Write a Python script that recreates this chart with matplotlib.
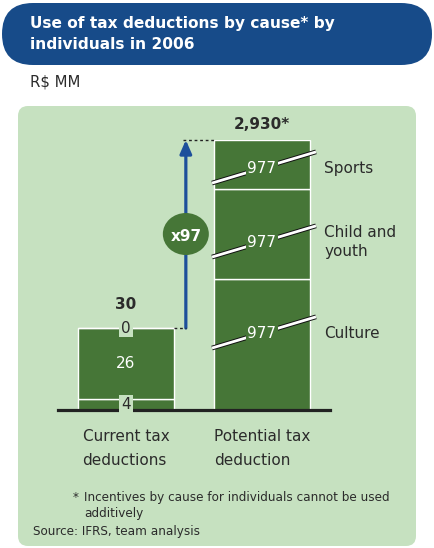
import numpy as np
import matplotlib.pyplot as plt
from matplotlib.patches import FancyBboxPatch, Ellipse
from matplotlib.lines import Line2D
from matplotlib.transforms import IdentityTransform

# data (R$ MM)
categories = ['Current tax\ndeductions', 'Potential tax\ndeduction']
current_parts = [4, 26, 0]            # bottom -> top
current_total = 30
potential_causes = ['Culture', 'Child and\nyouth', 'Sports']   # bottom -> top
potential_parts = [977, 977, 977]
potential_total = 2930
potential_total_label = '2,930*'

BAR = '#467637'
PANEL = '#C6E1C0'
BANNER = '#174B89'
ARROW = '#1D4F9B'
TXT = '#2B2B2B'

W, H = 434, 548
fig = plt.figure(figsize=(W / 100, H / 100), dpi=100)

# background: banner + green panel, in pixel coords
bg = fig.add_axes([0, 0, 1, 1], zorder=-1)
bg.set_xlim(0, W)
bg.set_ylim(H, 0)
bg.axis('off')
bg.add_patch(FancyBboxPatch((2, 3), 430, 62, boxstyle='round,pad=0,rounding_size=31',
                            fc=BANNER, ec='none'))
bg.add_patch(FancyBboxPatch((18, 106), 398, 440, boxstyle='round,pad=0,rounding_size=10',
                            fc=PANEL, ec='none'))
bg.text(30, 34, 'Use of tax deductions by cause* by\nindividuals in 2006', color='white',
        fontsize=11.1, fontweight='bold', va='center', linespacing=1.55)
bg.text(30, 82, 'R$ MM', fontsize=10.7, color=TXT, va='center')
bg.text(73, 497, '*', fontsize=8.65, color=TXT, va='center')
bg.text(84, 497, 'Incentives by cause for individuals cannot be used', fontsize=8.65,
        color=TXT, va='center')
bg.text(84, 514, 'additively', fontsize=8.65, color=TXT, va='center')
bg.text(33, 531, 'Source: IFRS, team analysis', fontsize=8.65, color=TXT, va='center')

rect = [58 / W, 138 / H, 272 / W, 270 / H]
width = 0.71
x = np.arange(len(categories))

# current deductions: plain linear axis
ax1 = fig.add_axes(rect, zorder=2)
ax1.patch.set_alpha(0)
ax1.set_xlim(-0.5, 1.5)
ax1.set_ylim(0, 98.8)

# potential deduction: broken (piecewise) axis
ax2 = fig.add_axes(rect, zorder=1)
ax2.patch.set_alpha(0)
ax2.set_xlim(-0.5, 1.5)
edges = np.concatenate([[0], np.cumsum(potential_parts)])
mids = (edges[:-1] + edges[1:]) / 2
kv = np.sort(np.concatenate([edges, mids]))
kf = [0, 0.285, 0.485, 0.622, 0.819, 0.896, 1.0]
ax2.set_yscale('function', functions=(lambda v: np.interp(v, kv, kf),
                                      lambda f: np.interp(f, kf, kv)))
ax2.set_ylim(0, edges[-1])

for a in (ax1, ax2):
    for s in ('left', 'right', 'top'):
        a.spines[s].set_visible(False)
    a.tick_params(left=False, labelleft=False)
ax2.spines['bottom'].set_visible(False)
ax2.tick_params(bottom=False, labelbottom=False)
ax1.spines['bottom'].set_linewidth(2.3)
ax1.spines['bottom'].set_color('#222222')
ax1.set_xticks(x, categories)
ax1.tick_params(axis='x', length=0, pad=14, labelsize=11, labelcolor=TXT)
for lab in ax1.get_xticklabels():
    lab.set_multialignment('left')
    lab.set_linespacing(1.7)

# bar 1
bottom = 0
for v in current_parts:
    ax1.bar(x[0], v, width, bottom=bottom, color=BAR, edgecolor='white', lw=1)
    yc = bottom + v / 2
    if v < 0.2 * current_total:
        ax1.text(x[0], yc, str(v), ha='center', va='center', fontsize=11, color=TXT,
                 zorder=4, clip_on=False,
                 bbox=dict(boxstyle='square,pad=0.12', fc=PANEL, ec='none'))
    else:
        ax1.text(x[0], yc, str(v), ha='center', va='center', fontsize=11, color='white')
    bottom += v
ax1.annotate(str(current_total), (x[0], current_total), xytext=(0, 17),
             textcoords='offset points', ha='center', va='center', fontsize=11,
             fontweight='bold', color=TXT)

# bar 2
for v, b, m, name in zip(potential_parts, edges[:-1], mids, potential_causes):
    ax2.bar(x[1], v, width, bottom=b, color=BAR, edgecolor='white', lw=1)
    cx, cy = ax2.transData.transform((x[1], m))
    xs = np.array([cx - 50, cx + 54])
    ys = cy + 0.3 * (xs - cx)
    for c, lw in (('#111111', 3.4), ('white', 2.0)):
        ax2.add_line(Line2D(xs, ys, color=c, lw=lw, transform=IdentityTransform(),
                            clip_on=False, zorder=3 + (c == 'white') * 0.1,
                            solid_capstyle='butt'))
    ax2.text(x[1], m, str(v), ha='center', va='center', fontsize=11, color='white', zorder=4,
             bbox=dict(boxstyle='square,pad=0.1', fc=BAR, ec='none'))
    ax2.annotate(name, (x[1] + width / 2, m), xytext=(10, 0), textcoords='offset points',
                 ha='left', va='center', fontsize=11, color=TXT, linespacing=1.3)
ax2.annotate(potential_total_label, (x[1], edges[-1]), xytext=(0, 11.5),
             textcoords='offset points', ha='center', va='center', fontsize=11,
             fontweight='bold', color=TXT, annotation_clip=False)

# growth arrow between the two totals
xa = 0.44
ax2.annotate('', xy=(xa, edges[-1]), xycoords=ax2.transData,
             xytext=(xa, current_total), textcoords=ax1.transData,
             arrowprops=dict(arrowstyle='-|>,head_width=0.35,head_length=0.8', lw=2.3,
                             color=ARROW, shrinkA=0, shrinkB=0, mutation_scale=10),
             annotation_clip=False)
ax1.plot([x[0] + width / 2, xa], [current_total] * 2, ls=(0, (2, 2)), color='#222222',
         lw=1, clip_on=False)
ax2.plot([xa - 0.02, x[1] - width / 2], [edges[-1]] * 2, ls=(0, (2, 2)), color='#222222',
         lw=1, clip_on=False)
lo = ax1.transData.transform((xa, current_total))
hi = ax2.transData.transform((xa, edges[-1]))
mid = (lo + hi) / 2
ax2.add_patch(Ellipse(mid, 46, 42, transform=IdentityTransform(), fc=BAR, ec='none',
                      zorder=5, clip_on=False))
ax2.text(mid[0], mid[1] - 2, 'x%d' % int(potential_total / current_total),
         transform=IdentityTransform(), ha='center', va='center', fontsize=11,
         fontweight='bold', color='white', zorder=6)

fig.savefig('out.png', dpi=100)
